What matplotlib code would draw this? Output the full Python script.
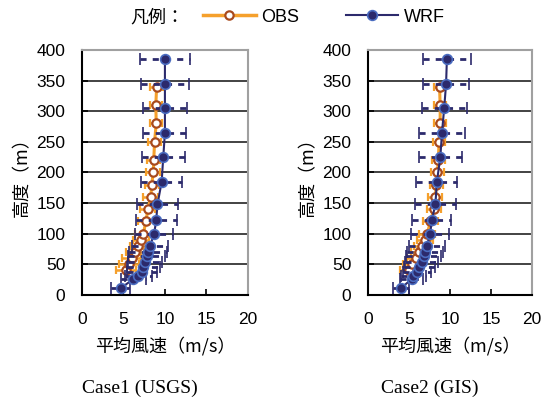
import matplotlib.pyplot as plt
from matplotlib.lines import Line2D

plt.rcParams['font.family'] = ['Liberation Sans', 'Noto Sans CJK JP']

# 観測 (OBS) の高度と平均風速
obs_height = [40, 50, 60, 70, 80, 90, 100, 120, 140, 160, 180, 200, 220, 250, 280, 310, 340]
obs_case1 = [5.3, 5.7, 6.0, 6.4, 6.8, 7.1, 7.4, 7.7, 7.95, 8.3, 8.4, 8.6, 8.65, 8.75, 8.95, 8.9, 9.0]
obs_std1 = [1.2, 1.2, 1.15, 1.1, 1.05, 1.0, 1.0, 0.95, 0.9, 0.9, 0.85, 0.85, 0.8, 0.8, 0.75, 0.75, 0.75]
obs_case2 = [5.0, 5.4, 5.8, 6.2, 6.6, 6.9, 7.2, 7.6, 8.0, 8.2, 8.3, 8.45, 8.55, 8.65, 8.78, 8.78, 8.7]
obs_std2 = [1.1, 1.1, 1.05, 1.0, 1.0, 0.95, 0.95, 0.9, 0.85, 0.85, 0.8, 0.8, 0.8, 0.75, 0.75, 0.75, 0.7]

# WRF の高度と平均風速
wrf_height = [11, 26, 31, 38, 46, 54, 63, 71, 80, 100, 122, 148, 184, 225, 265, 305, 345, 385]
wrf_case1 = [4.65, 6.2, 6.8, 7.2, 7.4, 7.6, 7.8, 8.0, 8.2, 8.7, 8.95, 9.1, 9.6, 9.8, 10.0, 10.0, 10.0, 10.0]
wrf_std1 = [1.1, 1.5, 1.6, 1.8, 2.0, 2.1, 2.2, 2.3, 2.2, 2.3, 2.45, 2.5, 2.5, 2.6, 2.6, 2.7, 2.9, 3.0]
wrf_case2 = [4.0, 5.3, 5.5, 5.93, 6.26, 6.55, 6.75, 6.95, 7.15, 7.56, 7.76, 8.2, 8.37, 8.8, 9.0, 9.27, 9.5, 9.6]
wrf_std2 = [1.0, 1.4, 1.5, 1.7, 1.9, 2.0, 2.1, 2.2, 2.2, 2.3, 2.4, 2.45, 2.5, 2.6, 2.75, 2.75, 2.85, 2.9]

titles = ['Case1 (USGS)', 'Case2 (GIS)']

obs_color = '#F5A02C'
obs_edge = '#A84A1E'
wrf_color = '#2C2A6C'
wrf_edge = '#4A6CC0'

fig = plt.figure(figsize=(5.47, 4.03), dpi=100)
axes = [fig.add_axes([0.150, 0.268, 0.303, 0.608]),
        fig.add_axes([0.673, 0.268, 0.300, 0.608])]

cases = [(obs_case1, obs_std1, wrf_case1, wrf_std1),
         (obs_case2, obs_std2, wrf_case2, wrf_std2)]
caption_x = [0.256, 0.786]

for ax, (ov, os_, wv, ws), title, cx in zip(axes, cases, titles, caption_x):
    # OBS
    ax.errorbar(ov, obs_height, xerr=os_, color=obs_color, lw=2.2,
                ecolor=obs_color, elinewidth=1.8, capsize=3, capthick=1.5,
                marker='o', ms=6, mfc='white', mec=obs_edge, mew=1.6,
                zorder=3)
    # WRF
    w = ax.errorbar(wv, wrf_height, xerr=ws, color=wrf_color, lw=1.5,
                    ecolor=wrf_color, elinewidth=2, capsize=4.5, capthick=2,
                    marker='o', ms=7, mfc=wrf_color, mec=wrf_edge, mew=1.2,
                    zorder=4)
    w[2][0].set_linestyle((0, (2.2, 2.2)))

    ax.set_xlim(0, 20)
    ax.set_ylim(0, 400)
    ax.set_xticks([0, 5, 10, 15, 20])
    ax.set_yticks(range(0, 401, 50))
    ax.yaxis.grid(True, color='#222222', lw=1.2)
    ax.set_axisbelow(True)
    ax.tick_params(direction='in', labelsize=12.5, length=4, width=1.2)
    ax.tick_params(axis='x', pad=12)
    ax.tick_params(axis='y', pad=12)
    for side in ['left', 'bottom']:
        ax.spines[side].set_color('black')
        ax.spines[side].set_linewidth(1.5)
    for side in ['top', 'right']:
        ax.spines[side].set_color('#A0A0A0')
        ax.spines[side].set_linewidth(1.5)

    ax.set_ylabel('高度（m）', fontsize=13, family=['Noto Sans CJK JP'])
    ax.yaxis.set_label_coords(-0.31, 0.5)
    ax.set_xlabel('平均風速（m/s）', fontsize=13, family=['Noto Sans CJK JP'])
    ax.xaxis.set_label_coords(0.5, -0.17)

    fig.text(cx, 1 - 388 / 403, title, ha='center', va='center',
             fontsize=14, family='Liberation Serif')

# 凡例
fig.text(0.238, 1 - 17 / 403, '凡例：', fontsize=13, family=['Noto Sans CJK JP'],
         va='center')
handles = [Line2D([], [], color=obs_color, lw=2.5, marker='o', ms=6,
                  mfc='white', mec=obs_edge, mew=1.6),
           Line2D([], [], color=wrf_color, lw=1.5, marker='o', ms=7,
                  mfc=wrf_color, mec=wrf_edge, mew=1.2)]
fig.legend(handles, ['OBS', 'WRF'], ncol=2, frameon=False, fontsize=13,
           loc='center left', bbox_to_anchor=(0.355, 1 - 17 / 403),
           handlelength=2.9, columnspacing=2.6, handletextpad=0.3, borderpad=0)

fig.savefig('out.png', dpi=100)
